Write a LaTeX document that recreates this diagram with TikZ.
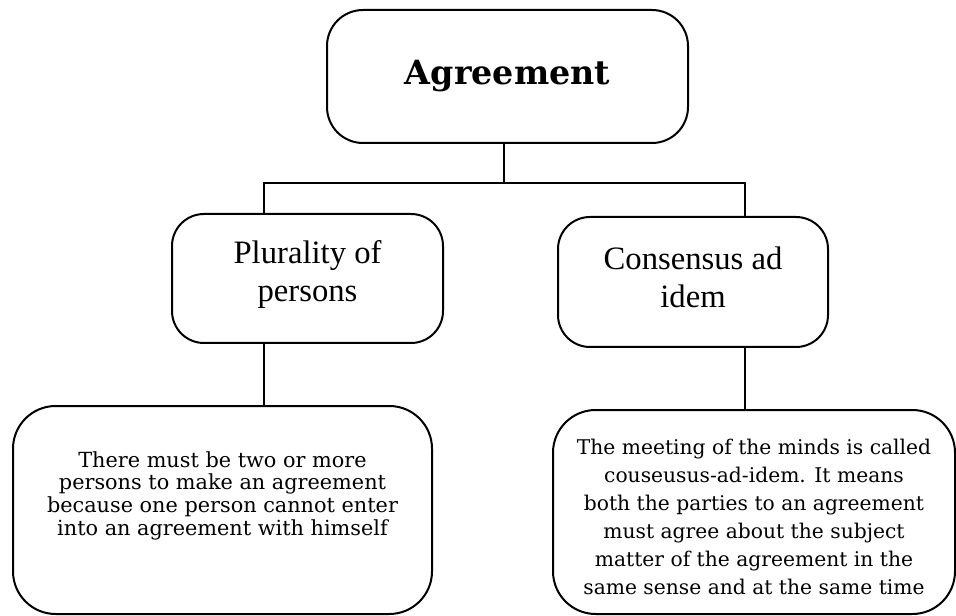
\documentclass[tikz,border=0pt]{standalone}
\usepackage{fontspec}
\setmainfont{DejaVu Serif}
\newfontfamily\headfont{Liberation Serif}
\usetikzlibrary{shapes,positioning,calc}

\begin{document}
\begin{tikzpicture}[x=0.75pt, y=-0.75pt, line width=1.5pt,
   box/.style={draw, rectangle, rounded corners=27pt, align=center, inner sep=0pt},
   midbox/.style={box, rounded corners=24pt, font=\headfont\fontsize{24.5}{28.5}\selectfont},
   textbox/.style={box, rounded corners=32pt},
   every text node part/.style={align=center}]

    \useasboundingbox (0,0) rectangle (956,616);

    % Place nodes
    \node [box, minimum width=361*0.75pt, minimum height=133*0.75pt, font=\bfseries\fontsize{25}{28}\selectfont] (agree) at (507.5,76.5) {Agreement};

    \node [midbox, minimum width=271*0.75pt, minimum height=129*0.75pt, text depth=10.5pt] (plural) at (307.5,278.5) {Plurality of\\persons};
    \node [midbox, minimum width=270*0.75pt, minimum height=130*0.75pt, text depth=7pt] (consent) at (693,282) {Consensus ad\\idem};

    \node [textbox, minimum width=419*0.75pt, minimum height=208*0.75pt, text depth=25pt, font=\fontsize{15.6}{17}\selectfont] (pluraltext) at (222.5,510) {There must be two or more\\persons to make an agreement\\because one person cannot enter\\into an agreement with himself};
    \node [textbox, minimum width=402*0.75pt, minimum height=204*0.75pt, text depth=0pt, text height=124pt, font=\fontsize{15.2}{21}\selectfont] (consenttext) at (754,512) {The meeting of the minds is called\\couseusus-ad-idem. It means\\both the parties to an agreement\\must agree about the subject\\matter of the agreement in the\\same sense and at the same time};

    % Draw edges
    \coordinate (split) at ($(agree.south)+(-3.5,39)$);
    \coordinate (pl) at ($(plural.north)+(-43.5,0)$);
    \coordinate (cs) at ($(consent.north)+(51.5,0)$);
    \draw (agree.south -| split) -- (split);
    \draw (pl) |- (split) -| (cs);
    \draw (plural.south -| pl) -- (pluraltext.north -| pl);
    \draw (consent.south -| cs) -- (consenttext.north -| cs);
\end{tikzpicture}
\end{document}
